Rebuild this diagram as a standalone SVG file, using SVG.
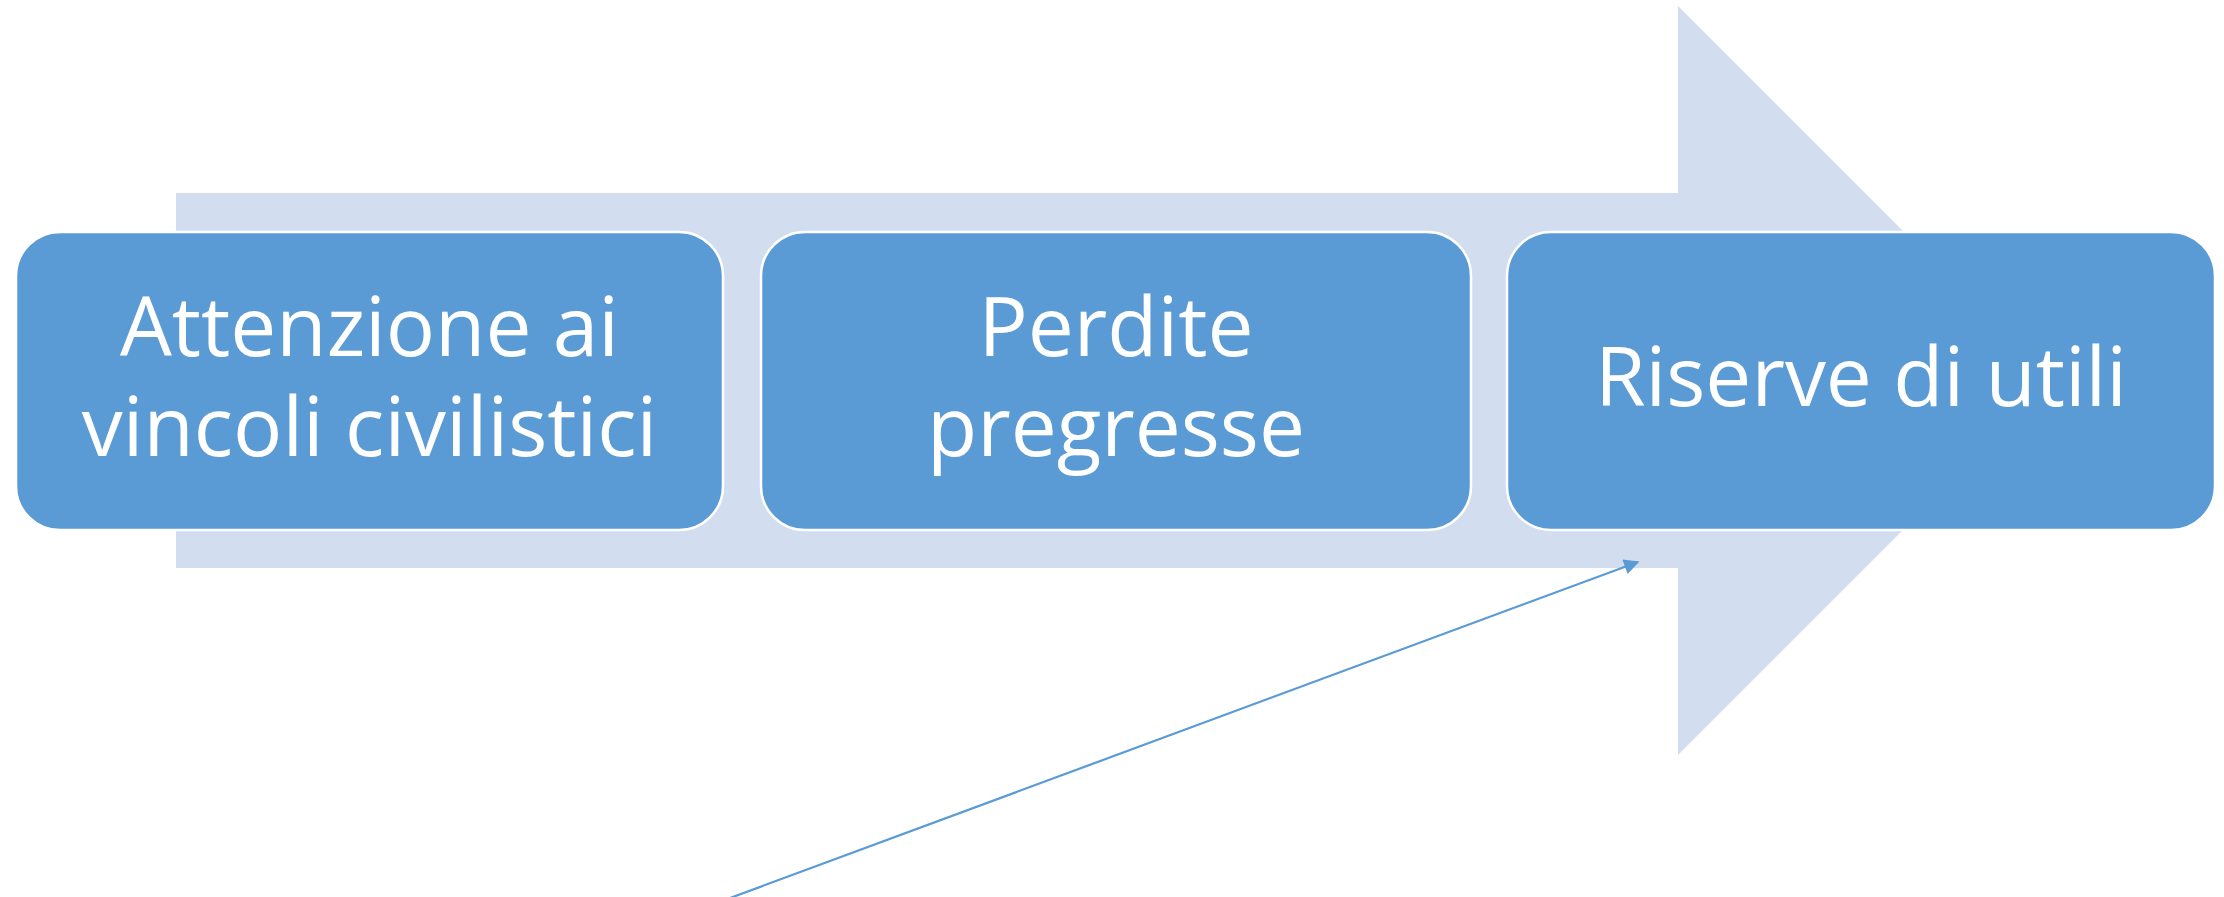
<svg xmlns="http://www.w3.org/2000/svg" width="2224" height="897" viewBox="0 0 2224 897">
<defs>
<style>
.bg{fill:#D2DEEF}
.box{fill:#5B9BD5;stroke:#FFFFFF;stroke-width:2.5}
.lbl{font-family:"Open Sans","Noto Sans","Liberation Sans",sans-serif;font-size:82px;fill:#FFFFFF;text-anchor:middle}
.conn{stroke:#5B9BD5;stroke-width:2.2;fill:none}
</style>
<marker id="ah" viewBox="0 0 10 10" refX="9" refY="5" markerWidth="9" markerHeight="7" markerUnits="strokeWidth" orient="auto">
<path d="M0,0 L10,5 L0,10 Z" fill="#5B9BD5"/>
</marker>
</defs>
<rect width="2224" height="897" fill="#FFFFFF"/>
<g id="arrow-bg">
<path class="bg" d="M176,193 L1678,193 L1678,6 L2052.5,380.5 L1678,755 L1678,568 L176,568 Z"/>
</g>
<g id="node1">
<rect class="box" x="16" y="232" width="707" height="298" rx="44" ry="44"/>
<text class="lbl"><tspan x="369.5" y="356">Attenzione ai</tspan><tspan x="369.5" y="456">vincoli civilistici</tspan></text>
</g>
<g id="node2">
<rect class="box" x="761" y="232" width="710" height="298" rx="44" ry="44"/>
<text class="lbl"><tspan x="1116" y="356">Perdite</tspan><tspan x="1116" y="456">pregresse</tspan></text>
</g>
<g id="node3">
<rect class="box" x="1507" y="232" width="708" height="298" rx="44" ry="44"/>
<text class="lbl" x="1861" y="406">Riserve di utili</text>
</g>
<g id="connectors">
<line class="conn" x1="722" y1="901" x2="1638" y2="562" marker-end="url(#ah)"/>
</g>
</svg>
